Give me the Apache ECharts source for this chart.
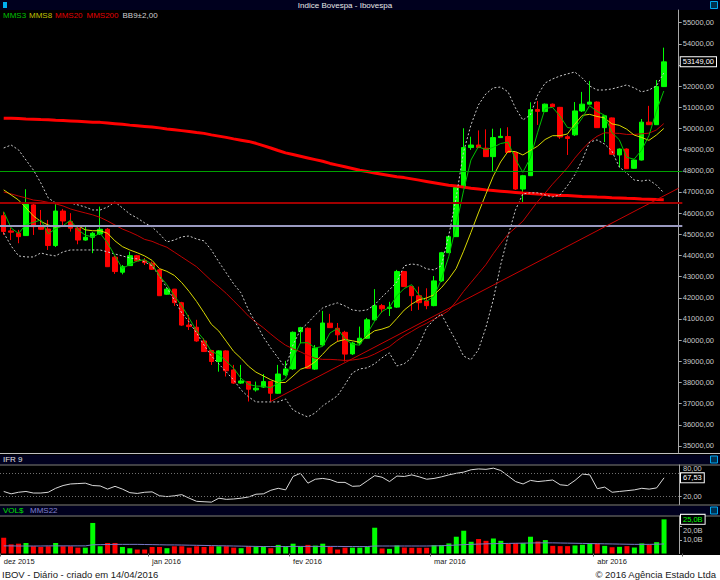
<!DOCTYPE html>
<html><head><meta charset="utf-8">
<script src="https://cdn.jsdelivr.net/npm/echarts@6/dist/echarts.min.js"></script>
<style>html,body{margin:0;padding:0;background:#000}#c{width:720px;height:580px}</style>
</head><body><div id="c"></div>
<script>
// ---------- DATA ----------
const dates = [
'01/12/2015','02/12/2015','03/12/2015','04/12/2015','07/12/2015','08/12/2015','09/12/2015','10/12/2015','11/12/2015','14/12/2015',
'15/12/2015','16/12/2015','17/12/2015','18/12/2015','21/12/2015','22/12/2015','23/12/2015','28/12/2015','29/12/2015','30/12/2015',
'04/01/2016','05/01/2016','06/01/2016','07/01/2016','08/01/2016','11/01/2016','12/01/2016','13/01/2016','14/01/2016','15/01/2016',
'18/01/2016','19/01/2016','20/01/2016','21/01/2016','22/01/2016','26/01/2016','27/01/2016','28/01/2016','29/01/2016',
'01/02/2016','02/02/2016','03/02/2016','04/02/2016','05/02/2016','10/02/2016','11/02/2016','12/02/2016','15/02/2016','16/02/2016',
'17/02/2016','18/02/2016','19/02/2016','22/02/2016','23/02/2016','24/02/2016','25/02/2016','26/02/2016','29/02/2016',
'01/03/2016','02/03/2016','03/03/2016','04/03/2016','07/03/2016','08/03/2016','09/03/2016','10/03/2016','11/03/2016','14/03/2016',
'15/03/2016','16/03/2016','17/03/2016','18/03/2016','21/03/2016','22/03/2016','23/03/2016','24/03/2016','28/03/2016','29/03/2016',
'30/03/2016','31/03/2016',
'01/04/2016','04/04/2016','05/04/2016','06/04/2016','07/04/2016','08/04/2016','11/04/2016','12/04/2016','13/04/2016','14/04/2016'];

const open = [45880,45160,45050,44940,46390,45360,45250,44470,46100,45600,
45290,44730,44860,45020,45240,43920,43210,43520,43990,43760,
43630,43320,42170,42410,41770,40710,40610,39960,39510,38990,
39490,38590,37970,38040,37650,37780,38040,37490,38360,38640,
40400,40560,38630,39770,40800,40560,40370,39350,39860,40090,
40960,41630,41500,41560,43240,42530,42100,41850,41630,42800,
44130,44890,47210,49100,49220,49070,48670,49570,49620,48870,
47140,47770,50900,50800,51150,51000,49610,49700,50830,51150,
51250,50040,50500,48750,49030,48120,48510,50300,50180,51980];
const high = [46060,45300,45210,47130,46480,46150,45680,46420,46200,46000,
45350,45360,45110,46310,45300,43980,43550,44180,44030,43880,
43710,43360,42470,42420,41810,41190,40960,40090,39540,39520,
39520,38830,38830,38070,38040,38400,38070,38830,39020,40410,
40630,40600,39770,41380,41240,40810,40440,39920,40640,41050,
42410,41710,41810,43320,43270,42560,42530,42450,43030,44170,
44920,47240,50010,49610,49910,49960,49990,50010,50060,48890,
47810,51240,51300,51180,51180,51020,49700,51250,51730,52250,
51280,50640,50520,49060,49060,48540,50450,51070,52290,53820];
const low = [44970,44730,44580,44920,44970,45210,44260,44400,45440,45130,
44530,44700,44110,44970,43460,43130,43110,43510,43700,43550,
43320,42090,42140,41620,40670,40480,39920,39440,38830,38510,
38280,37930,37930,37100,37570,37740,37100,37460,38310,38590,
39850,38640,38590,39730,40580,39920,38990,39300,39770,40060,
40910,41290,41140,41520,42510,41380,41430,41460,41600,42750,
44120,44880,47190,48990,49080,48660,47960,49550,48840,47100,
46530,47760,50170,50780,51020,49510,48750,49650,50780,51140,
50030,49360,48750,48160,48090,48090,48490,50170,50170,51960];
const close = [45130,45100,44890,46420,45360,45240,44470,46100,45630,45290,
44730,44860,45050,45240,43470,43240,43470,43990,43740,43660,
43350,42100,42410,41770,40710,40640,39960,39460,38990,39490,
38550,37970,38070,37680,37730,38040,37490,38400,38640,40370,
40590,38670,39620,40810,40590,40250,39340,39860,40090,40960,
41630,41480,41560,43240,42530,42100,41770,41630,42800,44130,
44890,47210,49100,49220,49100,48670,49570,49630,48870,47140,
47770,50890,50810,51150,51030,49600,49530,50830,51150,51250,
50040,50600,48780,49030,48100,48510,50300,50180,51980,53149];

const mms3 = [46070,45300,45040,45470,45560,45680,45020,45270,45400,45670,
45220,44960,44880,45050,44590,43980,43390,43570,43740,43800,
43590,43040,42620,42090,41630,41040,40440,40020,39470,39310,
39010,38670,38200,37910,37830,37820,37750,37980,38180,39140,
39870,39880,39630,39700,40340,40550,40060,39810,39760,40300,
40890,41350,41550,42090,42440,42620,42130,41840,42070,42850,
43940,45410,47060,48510,49140,49000,49110,49290,49360,48550,
47930,48600,49820,50950,51000,50590,50050,49990,50500,51080,
50810,50630,49810,49470,48640,48550,48970,49660,50820,51770];
const mms8 = [47100,46860,46620,46250,45870,45610,45440,45340,45400,45430,
45410,45210,45170,45170,45050,44690,44420,44260,44130,43980,
43770,43380,43250,43060,42720,42300,41830,41300,40750,40430,
39950,39470,39140,38770,38490,38310,38130,37990,38000,38300,
38620,38740,38980,39330,39710,39940,40030,39970,39900,40190,
40440,40520,40640,41020,41420,41700,41910,41990,42140,42470,
42890,43380,44200,45090,46010,46890,47740,48420,48920,48910,
48750,48960,49170,49480,49660,49660,49740,50200,50620,50670,
50570,50500,50220,50150,49970,49690,49580,49440,49690,50000];
const mms20 = [47000,46910,46810,46720,46620,46580,46510,46440,46340,46200,
46100,46010,45920,45800,45630,45440,45250,45110,44950,44760,
44670,44520,44390,44160,43930,43700,43470,43140,42810,42520,
42210,41860,41510,41140,40850,40590,40290,40010,39760,39590,
39450,39280,39140,39090,39090,39070,39040,39060,39110,39190,
39340,39520,39690,39970,40210,40410,40620,40790,40990,41180,
41400,41820,42300,42720,43140,43560,44080,44560,45000,45310,
45620,46090,46550,46950,47370,47750,48140,48600,49010,49370,
49630,49800,49780,49770,49720,49720,49750,49780,49930,50230];
const mms200 = [50490,50480,50470,50450,50440,50420,50410,50390,50380,50360,
50340,50320,50300,50290,50260,50230,50200,50160,50130,50100,
50070,50030,49980,49940,49900,49860,49810,49770,49700,49640,
49580,49510,49450,49390,49300,49190,49080,48960,48850,48770,
48690,48610,48530,48450,48350,48270,48190,48110,48030,47970,
47900,47840,47780,47720,47680,47620,47560,47500,47440,47380,
47320,47280,47230,47180,47140,47100,47070,47040,47010,46980,
46950,46930,46900,46880,46860,46840,46830,46810,46790,46780,
46760,46750,46730,46720,46700,46690,46670,46660,46640,46630];
const bbUpper = [49080,49220,48990,48510,48040,47430,46720,46480,46480,46480,
46390,46290,46150,46150,46290,46530,46250,45960,45770,45540,
45350,45020,44640,44730,44880,44920,44780,44690,44260,43700,
43180,42660,42230,41430,40810,40150,39630,39160,38690,39770,
40480,40810,41190,41520,41660,41760,41620,41430,41380,41430,
41660,42040,42370,42750,43510,43600,43550,43370,43320,43510,
44920,46720,48890,50170,51110,51630,51920,51960,51730,50970,
50400,50640,51580,52150,52340,52480,52580,52670,52390,52010,
51820,51820,51870,51960,52060,51920,51730,51820,52010,52620];
const bbLower = [45070,44450,43980,43930,43930,44120,44030,43980,44170,44260,
44260,44260,44260,44260,44170,44070,43980,43880,43840,43700,
43510,43030,42470,41900,41290,40860,40340,39770,39250,38880,
38500,38120,37650,37320,37080,37080,37080,37080,37220,36700,
36520,36370,36560,36890,37130,37370,37890,38450,38640,38690,
38880,39160,39400,38780,38880,39160,39770,40580,40960,41240,
40580,39960,39250,39070,39540,40580,41900,43550,44920,46150,
46910,46960,46960,46860,46770,46860,47290,47810,48510,49360,
49460,49270,48940,48180,47900,47570,47520,47570,47330,46960];

const ifr9 = [33,27,31,33,29,29,31,41,48,52,
53,54,48,47,39,46,39,30,28,31,
32,22,20,22,25,16,8,7,6,16,
13,14,16,19,26,27,36,41,37,71,
79,54,64,66,63,56,56,46,47,60,
73,69,58,72,71,75,70,64,66,70,
75,79,82,88,90,89,92,86,72,58,
52,61,58,60,62,50,48,61,77,75,
40,44,31,33,35,37,41,39,42,67.53];

const volume = [11.6,6.7,7.2,7.7,5.3,4.8,5.3,7.7,5.3,5.3,
4.3,4.3,22.4,5.3,7.7,7.7,4.8,3.9,2.9,2.9,
4.8,4.8,3.9,5.3,5.3,4.3,5.3,4.8,5.3,5.3,
5.3,4.3,3.9,5.3,4.8,5.3,3.9,6.3,5.3,7.2,
5.3,6.3,5.8,7.2,4.8,2.9,4.3,4.3,4.3,4.9,
18.9,3.7,3.4,5.9,4.4,4.2,4.2,4.2,6.1,6.1,
7.4,12.3,16.7,8.6,10.6,9.3,11.0,9.3,7.1,7.6,
7.6,12.3,8.8,9.8,5.6,5.4,5.4,5.9,6.4,7.4,
7.4,5.6,4.6,4.9,5.4,4.4,7.4,6.4,8.3,25.04];
const volMms22 = [5.6,5.6,5.5,5.5,5.5,5.5,5.6,5.6,5.6,5.6,
5.6,5.6,6.4,6.5,6.6,6.7,6.7,6.7,6.7,6.6,
6.5,6.4,6.3,6.3,6.2,6.1,6.0,5.9,5.8,5.7,
5.6,5.5,5.4,5.3,5.2,5.1,5.1,5.1,5.1,5.2,
5.2,5.2,5.2,5.2,5.2,5.2,5.1,5.1,5.1,5.1,
5.5,5.5,5.5,5.5,5.5,5.5,5.5,5.5,5.6,5.7,
5.9,6.2,6.5,6.7,6.9,7.1,7.2,7.3,7.4,7.5,
7.6,7.7,7.8,7.8,7.8,7.7,7.6,7.5,7.4,7.3,
7.2,7.1,7.0,6.9,6.8,6.7,6.7,6.7,6.8,7.0];

const priceTicks = [35000,36000,37000,38000,39000,40000,41000,42000,43000,44000,45000,
46000,47000,48000,49000,50000,51000,52000,53000,54000,55000];
const ifrTicks = [20,80];
const volTicks = [10,20];
const monthTickLabels = ['dez 2015','jan 2016','fev 2016','mar 2016','abr 2016'];
const levelLines = [48000,46500,45400];
const trendEnd = 47180;   // value of the support line at the right edge

// ---------- BUILD ----------
const FONT = 'Liberation Sans, Arial, sans-serif';
const cats = dates.concat(['', ' ']);
const lastIdx = dates.length - 1;
const lastClose = close[lastIdx];
const monthStart = dates.map((d, i) => i === 0 || d.slice(3) !== dates[i - 1].slice(3));
const labelFor = {};
let k = 0;
monthStart.forEach((m, i) => { if (m) labelFor[i] = monthTickLabels[k++]; });
// the price box hides the tick label it sits on
const priceLabels = priceTicks.filter(v => Math.abs(v - lastClose) > 600);

const GRID_L = -1, GRID_R = 37.4, AX_OFF = -3.6;
const UP = '#00ff00', DN = '#ff0000';

function hiddenX(gi) {
  return { type: 'category', gridIndex: gi, data: cats, boundaryGap: true,
    axisLine: { show: false }, axisTick: { show: false }, axisLabel: { show: false }, splitLine: { show: false } };
}
function rightAxis(gi, min, max, ticks, labels, fmt, vAlign) {
  return { type: 'value', gridIndex: gi, position: 'right', offset: AX_OFF, min, max, scale: false,
    axisLine: { show: true, lineStyle: { color: '#a8a8a8', width: 1 } },
    axisTick: { show: true, customValues: ticks, length: 3, lineStyle: { color: '#a8a8a8' } },
    axisLabel: { customValues: labels, formatter: fmt, color: '#c8c8c8', fontSize: 7.5, fontFamily: FONT, margin: 4,
      verticalAlign: vAlign || 'middle' },
    splitLine: { show: false } };
}
function labelAxis(gi, min, max, labels, fmt, vAlign) {
  return { type: 'value', gridIndex: gi, position: 'right', offset: AX_OFF, min, max,
    axisLine: { show: false }, axisTick: { show: false }, splitLine: { show: false },
    axisLabel: { customValues: labels, formatter: fmt, color: '#c8c8c8', fontSize: 7.5, fontFamily: FONT, margin: 4,
      verticalAlign: vAlign } };
}
function boxAxis(gi, min, max, val, fmt, col) {
  return { type: 'value', gridIndex: gi, position: 'right', offset: AX_OFF, min, max,
    axisLine: { show: false }, axisTick: { show: false }, splitLine: { show: false },
    axisLabel: { customValues: [val], formatter: fmt, color: col, fontSize: 7.5, fontFamily: FONT, margin: 2,
      borderColor: '#ffffff', borderWidth: 1, backgroundColor: '#000', padding: [1, 2, 0, 2] } };
}
function line(name, data, color, width, extra) {
  return Object.assign({ name, type: 'line', xAxisIndex: 0, yAxisIndex: 0, data, symbol: 'none',
    lineStyle: { color, width }, silent: true, z: 3 }, extra || {});
}
const ifrFmt = v => v.toFixed(2).replace('.', ',');
const volFmt = v => v.toFixed(1).replace('.', ',') + 'B';

const option = {
  backgroundColor: '#000',
  animation: false,
  textStyle: { fontFamily: FONT },
  grid: [
    { left: GRID_L, right: GRID_R, top: 10, height: 442.5 },
    { left: GRID_L, right: GRID_R, top: 465, height: 39.5 },
    { left: GRID_L, right: GRID_R, top: 516, height: 37.5 }
  ],
  xAxis: [hiddenX(0), hiddenX(1), {
    type: 'category', gridIndex: 2, data: cats, boundaryGap: true,
    axisLine: { show: false },
    axisTick: { show: true, interval: (i) => !!monthStart[i], length: 3, lineStyle: { color: '#606060' } },
    axisLabel: { interval: (i) => !!monthStart[i], formatter: (v, i) => labelFor[i] || '',
      align: 'left', color: '#202020', fontSize: 7.5, fontFamily: FONT, margin: 4 },
    splitLine: { show: false }
  }],
  yAxis: [
    rightAxis(0, 34690, 55600, priceTicks, priceLabels, v => v + ',00'),
    boxAxis(0, 34690, 55600, lastClose, v => v + ',00', '#ffffff'),
    rightAxis(1, 0, 100, ifrTicks, [ifrTicks[0]], ifrFmt),
    labelAxis(1, 0, 100, [ifrTicks[1]], ifrFmt, 'bottom'),
    boxAxis(1, 0, 100, ifr9[lastIdx], ifrFmt, '#ffffff'),
    rightAxis(2, 0, 27.5, volTicks, [volTicks[0]], volFmt),
    labelAxis(2, 0, 27.5, [volTicks[1]], volFmt, 'top'),
    boxAxis(2, 0, 27.5, volume[lastIdx], volFmt, '#00ff00')
  ],
  series: [
    { name: 'IBOV', type: 'candlestick', xAxisIndex: 0, yAxisIndex: 0, barWidth: 5, silent: true,
      data: dates.map((d, i) => [open[i], close[i], low[i], high[i]]),
      itemStyle: { color: UP, color0: DN, borderColor: UP, borderColor0: DN, borderWidth: 1 },
      markLine: { silent: true, symbol: ['none', 'none'], label: { show: false }, z: 4,
        data: [
          { yAxis: levelLines[0], lineStyle: { color: '#00a000', width: 1, type: 'solid' } },
          { yAxis: levelLines[1], lineStyle: { color: '#a00000', width: 2, type: 'solid' } },
          { yAxis: levelLines[2], lineStyle: { color: '#9a9ac0', width: 2, type: 'solid' } },
          [{ coord: [36, low[36]], lineStyle: { color: '#c80000', width: 1, type: 'solid' } },
           { coord: [cats.length - 1, trendEnd] }]
        ] } },
    line('MMS200', mms200, '#ff0000', 3),
    line('MMS20', mms20, '#c00000', 1),
    line('BBsup', bbUpper, '#c8c8c8', 1, { lineStyle: { color: '#c8c8c8', width: 1, type: [2, 2] } }),
    line('BBinf', bbLower, '#c8c8c8', 1, { lineStyle: { color: '#c8c8c8', width: 1, type: [2, 2] } }),
    line('MMS8', mms8, '#d8d800', 1),
    line('MMS3', mms3, '#00c000', 1),
    { name: 'IFR 9', type: 'line', xAxisIndex: 1, yAxisIndex: 2, data: ifr9, symbol: 'none', silent: true,
      lineStyle: { color: '#d8d8d8', width: 1 },
      markLine: { silent: true, symbol: ['none', 'none'], label: { show: false },
        lineStyle: { color: '#707070', width: 1, type: [1, 2] },
        data: ifrTicks.map(v => ({ yAxis: v })) } },
    { name: 'VOL$', type: 'bar', xAxisIndex: 2, yAxisIndex: 5, barWidth: 5, silent: true,
      data: volume.map((v, i) => ({ value: v, itemStyle: { color: close[i] >= open[i] ? UP : DN } })) },
    { name: 'MMS22', type: 'line', xAxisIndex: 2, yAxisIndex: 5, data: volMms22, symbol: 'none', silent: true,
      lineStyle: { color: '#7878c8', width: 1 }, z: 3 }
  ],
  graphic: [
    { type: 'rect', shape: { x: 0, y: 555, width: 720, height: 25 }, style: { fill: '#ffffff' }, z: -1 },
    { type: 'rect', shape: { x: 0, y: 0, width: 720, height: 10 }, style: { fill: '#00001e' } },
    { type: 'text', x: 345, y: 5, style: { text: 'Indice Bovespa - Ibovespa', fill: '#e8e8e8', font: '8px ' + FONT, align: 'center', verticalAlign: 'middle' } },
    { type: 'rect', shape: { x: 3, y: 2, width: 4, height: 6 }, style: { fill: '#00b0f0' } },
    { type: 'rect', shape: { x: 710.5, y: 1.5, width: 7, height: 7 }, style: { fill: '#003050', stroke: '#00a8f0', lineWidth: 1 } },
    { type: 'text', x: 3, y: 15.5, style: { text: 'MMS3', fill: '#00c000', font: '8px ' + FONT, verticalAlign: 'middle' } },
    { type: 'text', x: 29, y: 15.5, style: { text: 'MMS8', fill: '#c0c000', font: '8px ' + FONT, verticalAlign: 'middle' } },
    { type: 'text', x: 55, y: 15.5, style: { text: 'MMS20', fill: '#e00000', font: '8px ' + FONT, verticalAlign: 'middle' } },
    { type: 'text', x: 86.5, y: 15.5, style: { text: 'MMS200', fill: '#e00000', font: '8px ' + FONT, verticalAlign: 'middle' } },
    { type: 'text', x: 122.5, y: 15.5, style: { text: 'BB9±2,00', fill: '#d0d0d0', font: '8px ' + FONT, verticalAlign: 'middle' } },
    { type: 'line', shape: { x1: 0, y1: 453.5, x2: 720, y2: 453.5 }, style: { stroke: '#c0c0c0', lineWidth: 1 } },
    { type: 'rect', shape: { x: 0, y: 455, width: 720, height: 9.5 }, style: { fill: '#00001e' } },
    { type: 'text', x: 3, y: 459.5, style: { text: 'IFR 9', fill: '#e0e0e0', font: '8px ' + FONT, verticalAlign: 'middle' } },
    { type: 'rect', shape: { x: 710.5, y: 456, width: 7, height: 7 }, style: { fill: '#003050', stroke: '#00a8f0', lineWidth: 1 } },
    { type: 'line', shape: { x1: 0, y1: 465, x2: 720, y2: 465 }, style: { stroke: '#808080', lineWidth: 1 } },
    { type: 'line', shape: { x1: 0, y1: 505, x2: 720, y2: 505 }, style: { stroke: '#808080', lineWidth: 1 } },
    { type: 'rect', shape: { x: 0, y: 506, width: 720, height: 9.5 }, style: { fill: '#00001e' } },
    { type: 'text', x: 3, y: 510.5, style: { text: 'VOL$', fill: '#00e000', font: '8px ' + FONT, verticalAlign: 'middle' } },
    { type: 'text', x: 30, y: 510.5, style: { text: 'MMS22', fill: '#8080d0', font: '8px ' + FONT, verticalAlign: 'middle' } },
    { type: 'rect', shape: { x: 710.5, y: 507, width: 7, height: 7 }, style: { fill: '#003050', stroke: '#00a8f0', lineWidth: 1 } },
    { type: 'line', shape: { x1: 0, y1: 516, x2: 720, y2: 516 }, style: { stroke: '#808080', lineWidth: 1 } },
    { type: 'text', x: 2, y: 574, style: { text: 'IBOV - Diário - criado em 14/04/2016', fill: '#202020', font: '9.5px ' + FONT, verticalAlign: 'middle' } },
    { type: 'text', x: 716, y: 574, style: { text: '© 2016 Agência Estado Ltda', fill: '#202020', font: '9.5px ' + FONT, align: 'right', verticalAlign: 'middle' } }
  ]
};
const chart = echarts.init(document.getElementById('c'), null, { renderer: 'svg' });
chart.setOption(option);
</script></body></html>
